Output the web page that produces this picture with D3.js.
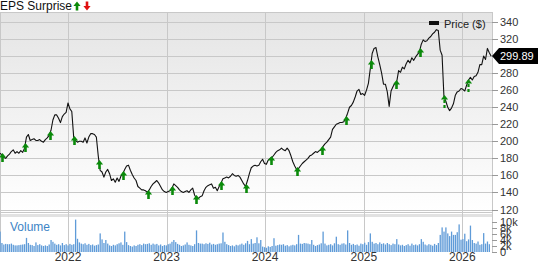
<!DOCTYPE html>
<html>
<head>
<meta charset="utf-8">
<script src="https://cdn.jsdelivr.net/npm/d3@7"></script>
<style>
  body { margin: 0; background: #fff; }
  svg { display: block; font-family: Arial, "Liberation Sans", sans-serif; }
</style>
</head>
<body>
<div id="chart"></div>
<script>
// weekly closes, first week is 2021-04-24
const weekStart = '2021-04-24';
const priceValues = [
  186, 184, 181, 180, 183, 185, 188, 190, 186, 188, 186, 189, 187, 192, 205, 208, 201, 202, 203, 201,
  201, 202, 200, 199, 202, 204, 207, 213, 225, 231, 231, 227, 222, 229, 232, 234, 245, 238, 235, 205,
  201, 199, 200, 200, 199, 204, 198, 205, 209, 209, 208, 205, 183, 166, 164, 158, 164, 167, 162, 154,
  156, 152, 157, 153, 159, 162, 167, 171, 172, 166, 161, 157, 154, 147, 145, 143, 143, 142, 140, 143,
  147, 150, 152, 154, 151, 147, 143, 141, 140, 141, 142, 145, 150, 148, 146, 143, 141, 140, 141, 142,
  140, 143, 145, 137, 133, 133, 135, 136, 142, 146, 148, 149, 150, 145, 146, 142, 147, 151, 156, 157,
  158, 157, 159, 162, 160, 159, 160, 158, 154, 150, 147, 154, 162, 169, 171, 172, 171, 172, 176, 179,
  174, 173, 178, 180, 181, 184, 187, 189, 190, 192, 190, 189, 192, 189, 183, 176, 171, 167, 168, 171,
  174, 176, 178, 180, 183, 184, 186, 188, 187, 189, 190, 194, 197, 199, 202, 205, 214, 217, 220, 221,
  222, 222, 223, 227, 233, 240, 242, 246, 252, 259, 261, 255, 256, 254, 260, 268, 285, 303, 309, 310,
  299, 290, 280, 267, 267, 258, 241, 259, 264, 268, 270, 283, 281, 287, 285, 291, 295, 292, 298, 295,
  299, 302, 305, 314, 319, 317, 318, 321, 323, 326, 328, 331, 330, 307, 301, 252, 247, 240, 236, 239,
  244, 254, 258, 259, 262, 261, 259, 266, 272, 275, 272, 276, 277, 281, 290, 290, 300, 296, 309, 304,
  299.89
];

// weekly volume, thousands
const volumeValues = [
  6.8, 3.0, 2.5, 2.7, 2.6, 2.6, 2.8, 2.4, 2.2, 2.2, 2.3, 2.4, 2.5, 2.6, 4.7, 3.0, 2.4, 2.3, 2.0, 3.2,
  2.3, 2.6, 2.2, 2.0, 2.2, 2.0, 2.5, 4.0, 3.4, 2.8, 2.4, 2.6, 2.2, 3.0, 2.3, 2.6, 2.2, 2.7, 2.4, 2.6,
  10.8, 4.4, 3.2, 2.8, 2.6, 2.9, 2.4, 2.7, 2.3, 2.5, 2.1, 2.3, 2.5, 6.2, 4.2, 3.0, 4.0, 2.8, 2.2, 2.0,
  2.4, 2.2, 2.6, 2.9, 3.2, 2.4, 6.8, 3.3, 2.3, 2.0, 1.8, 2.2, 2.0, 2.4, 2.6, 2.3, 2.8, 2.6, 2.7, 2.9,
  2.4, 2.8, 2.5, 2.7, 2.2, 2.5, 2.0, 2.3, 2.2, 2.6, 2.8, 3.4, 4.0, 3.3, 2.7, 2.4, 2.0, 2.2, 2.5, 3.2,
  2.4, 2.2, 2.0, 2.6, 7.2, 3.0, 2.8, 2.8, 2.6, 2.9, 2.7, 3.1, 2.5, 2.7, 2.4, 2.6, 2.8, 2.9, 6.5, 3.4,
  2.6, 2.3, 2.0, 2.2, 1.9, 2.4, 2.2, 2.5, 2.8, 2.4, 2.9, 3.7, 2.6, 4.3, 2.8, 3.0, 4.9, 2.9, 4.0, 1.8,
  1.6, 1.4, 1.9, 1.7, 2.0, 4.6, 2.1, 2.3, 2.5, 2.4, 2.6, 2.1, 2.3, 1.9, 2.2, 2.4, 2.2, 2.6, 5.7, 2.8,
  2.7, 3.0, 2.9, 2.8, 2.6, 4.0, 2.4, 2.0, 2.3, 2.5, 2.9, 6.8, 2.8, 2.2, 2.4, 2.6, 2.2, 2.9, 5.1, 2.6,
  2.4, 2.8, 2.9, 2.5, 7.2, 3.0, 2.4, 2.7, 2.3, 2.5, 2.1, 2.8, 2.6, 3.1, 2.4, 3.3, 6.2, 3.4, 2.8, 3.0,
  2.6, 3.2, 2.7, 2.9, 2.5, 3.0, 2.6, 2.3, 2.8, 2.6, 4.3, 2.5, 2.2, 2.4, 2.0, 2.3, 2.6, 2.1, 2.8, 2.3,
  2.5, 2.2, 2.6, 4.3, 3.4, 2.5, 2.2, 2.6, 2.4, 2.1, 2.7, 2.3, 3.0, 5.7, 8.2, 6.8, 8.2, 6.2, 5.3, 6.8,
  5.7, 5.7, 6.6, 9.2, 4.1, 4.3, 6.1, 3.6, 4.2, 8.8, 4.0, 3.0, 2.8, 3.5, 2.4, 2.6, 6.3, 2.8, 3.5, 2.6
];

// earnings report dates (all beats)
const epsDates = [
  '2021-05-01', '2021-07-26', '2021-10-26', '2022-01-23', '2022-04-26',
  '2022-07-24', '2022-10-24', '2023-01-21', '2023-04-20', '2023-07-22',
  '2023-10-22', '2024-01-23', '2024-04-28', '2024-07-30', '2024-10-27',
  '2025-01-28', '2025-04-30', '2025-07-28', '2025-10-25', '2026-01-22'
];
const epsDashed = [false, false, false, false, false, false, false, false, false, false,
  false, false, false, false, false, false, false, false, true, true];

const priceTicks = [120, 140, 160, 180, 200, 220, 240, 260, 280, 300, 320, 340];
const volumeTicks = [0, 2, 4, 6, 8, 10];
const volumeTickLabels = ['0', '2k', '4k', '6k', '8k', '10k'];
const yearTicks = ['2022', '2023', '2024', '2025', '2026'];

const width = 538, height = 262;
const plotL = 0, plotR = 492, plotT = 12;
const priceBottom = 212, volTop = 217, volBottom = 252;

const parse = d3.timeParse('%Y-%m-%d');
const start = parse(weekStart);
const priceData = priceValues.map((v, i) => ({ date: d3.timeDay.offset(start, 7 * i), value: v }));
const volumeData = volumeValues.map((v, i) => ({ date: d3.timeDay.offset(start, 7 * i), value: v }));

const x = d3.scaleTime()
  .domain([parse('2021-04-24'), parse('2026-04-21')])
  .range([plotL, plotR]);
const y = d3.scaleLinear().domain([120, 340]).range([209.5, 22]);
const yVol = d3.scaleLinear().domain([0, 10]).range([volBottom, 222]);

const svg = d3.select('#chart').append('svg')
  .attr('width', width)
  .attr('height', height);

const defs = svg.append('defs');
const grad = defs.append('linearGradient')
  .attr('id', 'bg')
  .attr('x1', 0).attr('y1', 0).attr('x2', 0).attr('y2', 1);
grad.append('stop').attr('offset', '0%').attr('stop-color', '#e4e4e4');
grad.append('stop').attr('offset', '100%').attr('stop-color', '#ffffff');

defs.append('clipPath').attr('id', 'clipPrice')
  .append('rect').attr('x', plotL).attr('y', plotT).attr('width', plotR - plotL).attr('height', priceBottom - plotT);
defs.append('clipPath').attr('id', 'clipVol')
  .append('rect').attr('x', plotL).attr('y', volTop).attr('width', plotR - plotL).attr('height', volBottom - volTop);

// panels
svg.append('rect')
  .attr('x', plotL).attr('y', plotT)
  .attr('width', plotR - plotL).attr('height', priceBottom - plotT)
  .attr('fill', 'url(#bg)');
svg.append('rect')
  .attr('x', plotL).attr('y', priceBottom + 2)
  .attr('width', plotR - plotL).attr('height', volTop - priceBottom - 2)
  .attr('fill', '#e2e2e2');

const gridColor = '#c8c8c8';

// horizontal gridlines
svg.append('g').selectAll('line')
  .data(priceTicks)
  .enter()
  .append('line')
  .attr('x1', plotL).attr('x2', plotR)
  .attr('y1', d => Math.round(y(d)) + 0.5)
  .attr('y2', d => Math.round(y(d)) + 0.5)
  .attr('stroke', gridColor);

// frame
svg.append('line').attr('x1', plotL).attr('x2', plotR).attr('y1', plotT + 0.5).attr('y2', plotT + 0.5).attr('stroke', gridColor);
svg.append('line').attr('x1', plotL).attr('x2', plotR).attr('y1', priceBottom + 0.5).attr('y2', priceBottom + 0.5).attr('stroke', gridColor);
svg.append('line').attr('x1', plotL + 0.5).attr('x2', plotL + 0.5).attr('y1', plotT).attr('y2', volBottom).attr('stroke', gridColor);
svg.append('line').attr('x1', plotR + 0.5).attr('x2', plotR + 0.5).attr('y1', plotT).attr('y2', volBottom).attr('stroke', gridColor);

// year gridlines
svg.append('g').selectAll('line')
  .data(yearTicks)
  .enter()
  .append('line')
  .attr('x1', d => Math.round(x(parse(d + '-01-01'))) + 0.5)
  .attr('x2', d => Math.round(x(parse(d + '-01-01'))) + 0.5)
  .attr('y1', plotT).attr('y2', volBottom)
  .attr('stroke', gridColor);

// volume bars
svg.append('g')
  .attr('clip-path', 'url(#clipVol)')
  .selectAll('rect')
  .data(volumeData)
  .enter()
  .append('rect')
  .attr('x', d => x(d.date) - 0.6)
  .attr('width', 1.3)
  .attr('y', d => yVol(d.value))
  .attr('height', d => volBottom - yVol(d.value))
  .attr('fill', '#5f9bd8');

svg.append('text')
  .attr('x', 10).attr('y', 231)
  .attr('font-size', 12)
  .attr('fill', '#3d84c6')
  .text('Volume');

// price line
const line = d3.line()
  .x(d => x(d.date))
  .y(d => y(d.value));

svg.append('path')
  .datum(priceData)
  .attr('clip-path', 'url(#clipPrice)')
  .attr('d', line)
  .attr('fill', 'none')
  .attr('stroke', '#111')
  .attr('stroke-width', 1.1)
  .attr('stroke-linejoin', 'round');

// EPS surprise arrows, tip sits on the price line
const bisect = d3.bisector(d => d.date).left;
function priceAt(date) {
  const i = Math.max(1, Math.min(priceData.length - 1, bisect(priceData, date)));
  const a = priceData[i - 1], b = priceData[i];
  const t = (date - a.date) / (b.date - a.date);
  return a.value + (b.value - a.value) * t;
}
const upArrow = 'M0,0 L3.6,4.6 L1.3,4.6 L1.3,9 L-1.3,9 L-1.3,4.6 L-3.6,4.6 Z';
const headOnly = 'M0,0 L3.6,4.6 L-3.6,4.6 Z';

const eps = svg.append('g').selectAll('g')
  .data(epsDates.map((d, i) => ({ date: parse(d), dashed: epsDashed[i] })))
  .enter()
  .append('g')
  .attr('transform', d => `translate(${Math.round(x(d.date)) + 0.5},${Math.round(y(priceAt(d.date))) - 2})`);

eps.append('path')
  .attr('d', d => d.dashed ? headOnly : upArrow)
  .attr('fill', '#0a8a0a');
eps.filter(d => d.dashed)
  .append('line')
  .attr('x1', 0).attr('x2', 0)
  .attr('y1', 5).attr('y2', 15)
  .attr('stroke', '#0a8a0a')
  .attr('stroke-width', 2.2)
  .attr('stroke-dasharray', '3,2');

// right price axis
const axisG = svg.append('g');
axisG.selectAll('line')
  .data(priceTicks)
  .enter()
  .append('line')
  .attr('x1', plotR).attr('x2', plotR + 6)
  .attr('y1', d => Math.round(y(d)) + 0.5)
  .attr('y2', d => Math.round(y(d)) + 0.5)
  .attr('stroke', '#999');
axisG.selectAll('text')
  .data(priceTicks)
  .enter()
  .append('text')
  .attr('x', plotR + 8)
  .attr('y', d => y(d) + 4)
  .attr('font-size', 11)
  .attr('fill', '#333')
  .text(d => d);

// volume axis
const volAxis = svg.append('g');
volAxis.selectAll('line')
  .data(volumeTicks)
  .enter()
  .append('line')
  .attr('x1', plotR).attr('x2', plotR + 5)
  .attr('y1', d => Math.round(yVol(d)) + 0.5)
  .attr('y2', d => Math.round(yVol(d)) + 0.5)
  .attr('stroke', '#999');
volAxis.selectAll('text')
  .data(volumeTicks)
  .enter()
  .append('text')
  .attr('x', plotR + 8)
  .attr('y', d => yVol(d) + 4)
  .attr('font-size', 11)
  .attr('fill', '#333')
  .text((d, i) => volumeTickLabels[i]);

// year labels
svg.append('g').selectAll('text')
  .data(yearTicks)
  .enter()
  .append('text')
  .attr('x', d => x(parse(d + '-01-01')))
  .attr('y', 261)
  .attr('text-anchor', 'middle')
  .attr('font-size', 12)
  .attr('fill', '#333')
  .text(d => d);

// last price flag
const last = priceData[priceData.length - 1];
const ly = Math.round(y(last.value));
svg.append('path')
  .attr('d', `M${plotR},${ly} L${plotR + 7},${ly - 8} L${width},${ly - 8} L${width},${ly + 8} L${plotR + 7},${ly + 8} Z`)
  .attr('fill', '#000');
svg.append('text')
  .attr('x', plotR + 8)
  .attr('y', ly + 4)
  .attr('font-size', 11)
  .attr('fill', '#fff')
  .text(last.value.toFixed(2));

// legend
svg.append('rect')
  .attr('x', 429).attr('y', 21)
  .attr('width', 10).attr('height', 4)
  .attr('fill', '#111');
svg.append('text')
  .attr('x', 444).attr('y', 28)
  .attr('font-size', 11)
  .attr('fill', '#222')
  .text('Price ($)');

// title
svg.append('text')
  .attr('x', 0).attr('y', 10)
  .attr('font-size', 12)
  .attr('fill', '#111')
  .text('EPS Surprise');
svg.append('path')
  .attr('d', upArrow)
  .attr('transform', 'translate(77,1.5)')
  .attr('fill', '#0a8a0a');
svg.append('path')
  .attr('d', upArrow)
  .attr('transform', 'translate(87,10.5) rotate(180)')
  .attr('fill', '#e01010');
</script>
</body>
</html>
